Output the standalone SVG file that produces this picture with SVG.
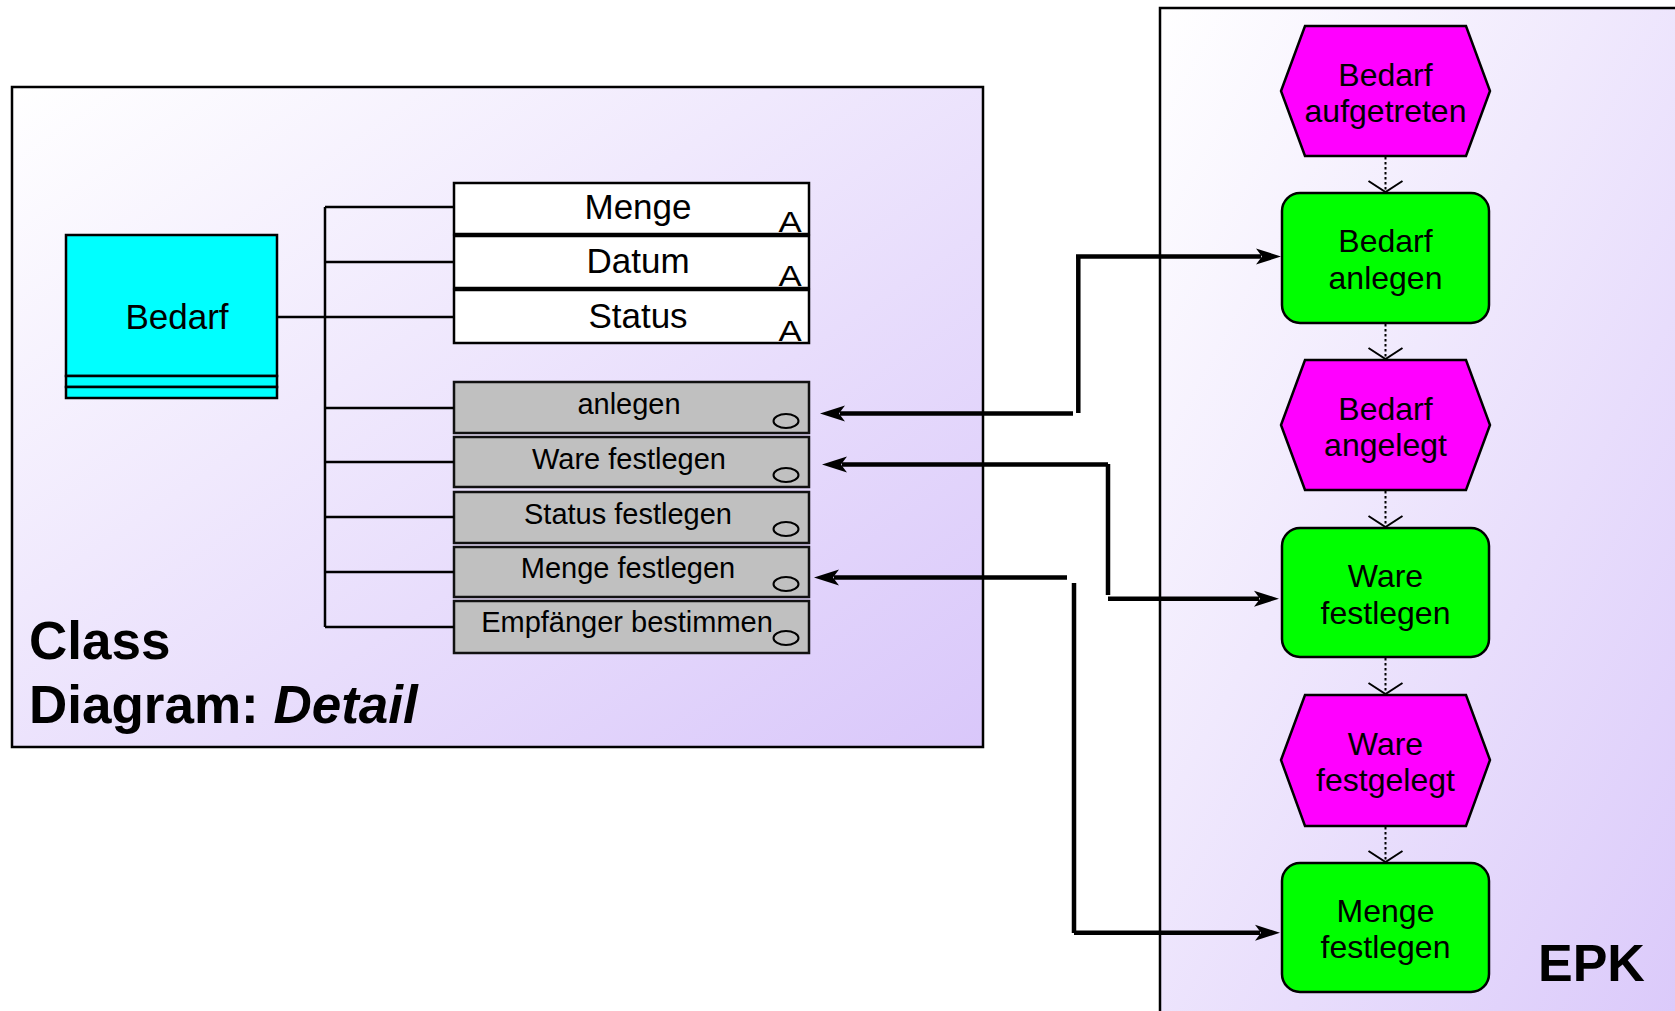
<svg xmlns="http://www.w3.org/2000/svg" width="1675" height="1011" viewBox="0 0 1675 1011">
  <defs>
    <linearGradient id="frameFill" x1="0" y1="0" x2="1" y2="1">
      <stop offset="0" stop-color="#ffffff"/>
      <stop offset="1" stop-color="#d9c7fa"/>
    </linearGradient>
    <!-- filled, notched arrowhead for the thick links -->
    <marker id="head" markerUnits="userSpaceOnUse" viewBox="-6 -9 27 18" refX="0" refY="0" markerWidth="27" markerHeight="18" orient="auto">
      <path d="M20,0 L-5,-8 L1,0 L-5,8 Z" fill="#000"/>
    </marker>
    <!-- open V arrowhead for the control flow -->
    <marker id="vee" markerUnits="userSpaceOnUse" viewBox="-13 -19 15 38" refX="0" refY="0" markerWidth="15" markerHeight="38" orient="auto">
      <path d="M-11,-17 L0,0 L-11,17" fill="none" stroke="#000" stroke-width="2"/>
    </marker>
  </defs>
  <style>
    .frame { fill: url(#frameFill); stroke: #000; stroke-width: 2.5; }
    .attr { fill: #ffffff; stroke: #000; stroke-width: 2.5; }
    .op { fill: #c0c0c0; stroke: #111; stroke-width: 2.5; }
    .cls { fill: #00ffff; stroke: #000; stroke-width: 2.5; }
    .evt { fill: #ff00ff; stroke: #000; stroke-width: 2.5; }
    .fn { fill: #00ff00; stroke: #000; stroke-width: 2.5; }
    .tree { fill: none; stroke: #000; stroke-width: 2.5; }
    .link { fill: none; stroke: #000; stroke-width: 4.5; }
    .flow { fill: none; stroke: #000; stroke-width: 2; stroke-dasharray: 2.5 2.5; }
    .oval { fill: none; stroke: #000; stroke-width: 2; }
    text { font-family: "Liberation Sans", Arial, sans-serif; fill: #000; }
    .t34 { font-size: 35px; text-anchor: middle; }
    .t29 { font-size: 29px; text-anchor: middle; }
    .t31 { font-size: 32px; text-anchor: middle; }
    .mark { font-size: 29px; text-anchor: middle; }
    .title { font-size: 53px; font-weight: bold; }
  </style>

  <!-- frames -->
  <g id="class-frame">
    <rect class="frame" x="12" y="87" width="971" height="660"/>
    <text class="title" x="29" y="659">Class</text>
    <text class="title" x="29" y="723">Diagram: <tspan font-style="italic">Detail</tspan></text>
  </g>
  <g id="epk-frame">
    <rect class="frame" x="1160" y="8" width="560" height="1030"/>
    <text class="title" x="1538" y="981" style="font-size:52px">EPK</text>
  </g>

  <!-- class diagram -->
  <g id="class-bedarf">
    <rect class="cls" x="66" y="235" width="211" height="141"/>
    <rect class="cls" x="66" y="376" width="211" height="11"/>
    <rect class="cls" x="66" y="387" width="211" height="11"/>
    <text class="t34" x="177" y="329">Bedarf</text>
  </g>

  <g id="attr-menge">
    <rect class="attr" x="454" y="183" width="355" height="51"/>
    <text class="t34" x="638" y="219">Menge</text>
    <text class="mark" transform="translate(790,232) scale(1.2,1)">A</text>
  </g>
  <g id="attr-datum">
    <rect class="attr" x="454" y="236" width="355" height="52"/>
    <text class="t34" x="638" y="273">Datum</text>
    <text class="mark" transform="translate(790,286) scale(1.2,1)">A</text>
  </g>
  <g id="attr-status">
    <rect class="attr" x="454" y="290" width="355" height="53"/>
    <text class="t34" x="638" y="328">Status</text>
    <text class="mark" transform="translate(790,341) scale(1.2,1)">A</text>
  </g>

  <g id="op-anlegen">
    <rect class="op" x="454" y="382" width="355" height="51"/>
    <text class="t29" x="629" y="414">anlegen</text>
    <ellipse class="oval" cx="786" cy="421" rx="12.5" ry="7"/>
  </g>
  <g id="op-ware-festlegen">
    <rect class="op" x="454" y="437" width="355" height="50"/>
    <text class="t29" x="629" y="469">Ware festlegen</text>
    <ellipse class="oval" cx="786" cy="475" rx="12.5" ry="7"/>
  </g>
  <g id="op-status-festlegen">
    <rect class="op" x="454" y="492" width="355" height="51"/>
    <text class="t29" x="628" y="524">Status festlegen</text>
    <ellipse class="oval" cx="786" cy="529" rx="12.5" ry="7"/>
  </g>
  <g id="op-menge-festlegen">
    <rect class="op" x="454" y="547" width="355" height="50"/>
    <text class="t29" x="628" y="578">Menge festlegen</text>
    <ellipse class="oval" cx="786" cy="584" rx="12.5" ry="7"/>
  </g>
  <g id="op-empfaenger-bestimmen">
    <rect class="op" x="454" y="601" width="355" height="52"/>
    <text class="t29" x="627" y="632">Empfänger bestimmen</text>
    <ellipse class="oval" cx="786" cy="638" rx="12.5" ry="7"/>
  </g>

  <!-- EPK chain -->
  <g id="evt-bedarf-aufgetreten">
    <polygon class="evt" points="1305,26 1466,26 1490,91 1466,156 1305,156 1281,91"/>
    <text class="t31" x="1385.5" y="86">Bedarf</text>
    <text class="t31" x="1385.5" y="122">aufgetreten</text>
  </g>
  <g id="fn-bedarf-anlegen">
    <rect class="fn" x="1282" y="193" width="207" height="130" rx="18"/>
    <text class="t31" x="1385.5" y="252">Bedarf</text>
    <text class="t31" x="1385.5" y="289">anlegen</text>
  </g>
  <g id="evt-bedarf-angelegt">
    <polygon class="evt" points="1305,360 1466,360 1490,425 1466,490 1305,490 1281,425"/>
    <text class="t31" x="1385.5" y="420">Bedarf</text>
    <text class="t31" x="1385.5" y="456">angelegt</text>
  </g>
  <g id="fn-ware-festlegen">
    <rect class="fn" x="1282" y="528" width="207" height="129" rx="18"/>
    <text class="t31" x="1385.5" y="587">Ware</text>
    <text class="t31" x="1385.5" y="624">festlegen</text>
  </g>
  <g id="evt-ware-festgelegt">
    <polygon class="evt" points="1305,695 1466,695 1490,760 1466,826 1305,826 1281,760"/>
    <text class="t31" x="1385.5" y="755">Ware</text>
    <text class="t31" x="1385.5" y="791">festgelegt</text>
  </g>
  <g id="fn-menge-festlegen">
    <rect class="fn" x="1282" y="863" width="207" height="129" rx="18"/>
    <text class="t31" x="1385.5" y="922">Menge</text>
    <text class="t31" x="1385.5" y="958">festlegen</text>
  </g>

  <!-- connectors -->
  <g id="connectors">
    <!-- class tree -->
    <path class="tree" d="M325,207 V627 M325,207 H454 M325,262 H454 M325,317 H454 M325,408 H454 M325,462 H454 M325,517 H454 M325,572 H454 M325,627 H454"/>
    <path class="tree" d="M277,317 H325" stroke-width="3.5"/>

    <!-- EPK control flow -->
    <path class="flow" d="M1385.5,157 V192" marker-end="url(#vee)"/>
    <path class="flow" d="M1385.5,324 V359" marker-end="url(#vee)"/>
    <path class="flow" d="M1385.5,491 V527" marker-end="url(#vee)"/>
    <path class="flow" d="M1385.5,658 V694" marker-end="url(#vee)"/>
    <path class="flow" d="M1385.5,827 V862" marker-end="url(#vee)"/>

    <!-- Bedarf anlegen -> anlegen -->
    <path class="link" d="M1076,256.5 H1261" marker-end="url(#head)"/>
    <path class="link" d="M1078.3,256 V413"/>
    <path class="link" d="M1073,413.5 H840" marker-end="url(#head)"/>

    <!-- Ware festlegen -> Ware festlegen -->
    <path class="link" d="M1108,464.5 H842" marker-end="url(#head)"/>
    <path class="link" d="M1108,464 V595"/>
    <path class="link" d="M1108,598.7 H1259" marker-end="url(#head)"/>

    <!-- Menge festlegen -> Menge festlegen -->
    <path class="link" d="M1067,577.5 H834" marker-end="url(#head)"/>
    <path class="link" d="M1074,583 V933"/>
    <path class="link" d="M1074,932.7 H1260" marker-end="url(#head)"/>
  </g>
</svg>
